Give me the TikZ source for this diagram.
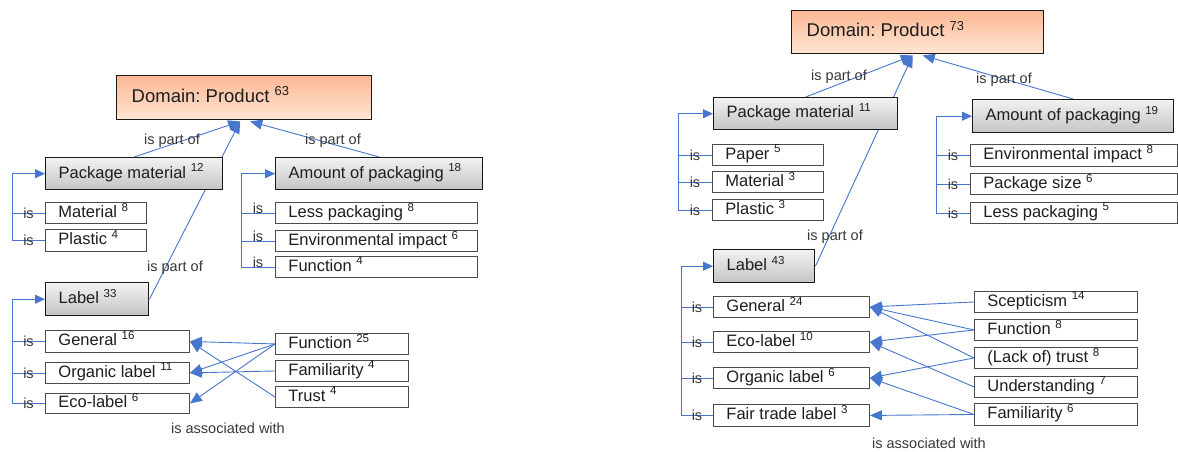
\documentclass[tikz,border=0pt]{standalone}
\usepackage{fontspec}
\setmainfont{Liberation Sans}
\usetikzlibrary{arrows.meta}

\definecolor{lnblue}{RGB}{70,118,205}
\definecolor{txt}{RGB}{30,30,30}
\definecolor{lbltxt}{RGB}{55,55,55}
\definecolor{domtop}{RGB}{252,184,148}
\definecolor{dombot}{RGB}{255,230,212}
\definecolor{grytop}{RGB}{242,242,242}
\definecolor{grybot}{RGB}{196,196,196}

\newcommand\boxfont{\fontsize{16.5}{19}\selectfont}
\newcommand\domfont{\fontsize{18.5}{21}\selectfont}
\newcommand\relfont{\fontsize{14.5}{17}\selectfont}

\pgfdeclarelayer{wires}
\pgfsetlayers{wires,main}

\tikzset{
  anybox/.style={rectangle, anchor=north west, inner ysep=0pt,
    text=txt, font=\boxfont},
  leafbox/.style={anybox, draw=black!70, line width=0.9pt, fill=white},
  groupbox/.style={anybox, draw=black!90, line width=1.4pt,
    top color=grytop, bottom color=grybot},
  domainbox/.style={anybox, draw=black!90, line width=1.4pt,
    top color=domtop, bottom color=dombot, font=\domfont},
  link/.style={draw=lnblue, line width=0.9pt},
  linkarrow/.style={link, -{Triangle[length=10pt,width=9pt]}},
  bigarrow/.style={link, -{Triangle[length=12pt,width=10pt]}},
  rel/.style={text=lbltxt, font=\relfont, inner sep=0pt},
  isrel/.style={rel, pos=0.5},
  israised/.style={rel, pos=0.5, yshift=5pt},
}

% box by its corners: [padding]{name}{style}{x1}{y1}{x2}{y2}{text}
\newcommand\bx[8][13]{%
  \pgfmathsetmacro\bxw{#6-#4}%
  \pgfmathsetmacro\bxh{#7-#5}%
  \pgfmathsetmacro\bxt{#6-#4-2*#1}%
  \node[#3, inner xsep=#1pt, minimum width=\bxw pt, minimum height=\bxh pt]
    (#2) at (#4,#5) {\makebox[\bxt pt][l]{\strut #8}};}

\begin{document}
\frenchspacing
\begin{tikzpicture}[x=1pt,y=-1pt]
\useasboundingbox (0,0) rectangle (1178,451);

% ---------- left map ----------
\bx[15]{dom1}{domainbox}{116}{75}{371}{119}{Domain: Product \textsuperscript{63}}
\bx{pm1}{groupbox}{45}{157}{222}{189}{Package material \textsuperscript{12}}
\bx{am1}{groupbox}{275}{157}{482}{189}{Amount of packaging \textsuperscript{18}}
\bx{mat1}{leafbox}{45}{202}{146}{223}{Material \textsuperscript{8}}
\bx{pla1}{leafbox}{45}{229}{146}{251}{Plastic \textsuperscript{4}}
\bx{lp1}{leafbox}{275}{202}{477}{223}{Less packaging \textsuperscript{8}}
\bx{ei1}{leafbox}{275}{230}{477}{251}{Environmental impact \textsuperscript{6}}
\bx{fu1}{leafbox}{275}{256}{477}{277}{Function \textsuperscript{4}}
\bx{lab1}{groupbox}{45}{282}{148}{315}{Label \textsuperscript{33}}
\bx{gen1}{leafbox}{45}{330}{189}{352}{General \textsuperscript{16}}
\bx{org1}{leafbox}{45}{362}{189}{383}{Organic label \textsuperscript{11}}
\bx{eco1}{leafbox}{45}{393}{189}{413}{Eco-label \textsuperscript{6}}
\bx{afu1}{leafbox}{275}{333}{408}{354}{Function \textsuperscript{25}}
\bx{afa1}{leafbox}{275}{360}{408}{381}{Familiarity \textsuperscript{4}}
\bx{atr1}{leafbox}{275}{386}{408}{407}{Trust \textsuperscript{4}}

\coordinate (dom1tipA) at ([xshift=-4pt,yshift=-1pt]dom1.south);
\coordinate (dom1tipB) at ([xshift=6pt,yshift=-1pt]dom1.south);

\node[rel] (ipoA1) at (172,141) {is part of};
\node[rel] (ipoB1) at (333,141) {is part of};
\node[rel] (ipoC1) at (175,268) {is part of};
\node[rel] (iaw1) at (228,428) {is associated with};

% ---------- right map ----------
\bx[15]{dom2}{domainbox}{791}{10}{1043}{53}{Domain: Product \textsuperscript{73}}
\bx{pm2}{groupbox}{713}{97}{897}{129}{Package material \textsuperscript{11}}
\bx{am2}{groupbox}{972}{99}{1173}{132}{Amount of packaging \textsuperscript{19}}
\bx{pap2}{leafbox}{712}{144}{823}{165}{Paper \textsuperscript{5}}
\bx{mat2}{leafbox}{712}{171}{823}{192}{Material \textsuperscript{3}}
\bx{pla2}{leafbox}{712}{199}{823}{220}{Plastic \textsuperscript{3}}
\bx{ei2}{leafbox}{970}{144}{1177}{166}{Environmental impact \textsuperscript{8}}
\bx{ps2}{leafbox}{970}{173}{1177}{194}{Package size \textsuperscript{6}}
\bx{lp2}{leafbox}{970}{202}{1177}{223}{Less packaging \textsuperscript{5}}
\bx{lab2}{groupbox}{713}{249}{814}{282}{Label \textsuperscript{43}}
\bx{gen2}{leafbox}{713}{296}{869}{317}{General \textsuperscript{24}}
\bx{eco2}{leafbox}{713}{331}{869}{352}{Eco-label \textsuperscript{10}}
\bx{org2}{leafbox}{713}{367}{869}{388}{Organic label \textsuperscript{6}}
\bx{fair2}{leafbox}{713}{404}{869}{426}{Fair trade label \textsuperscript{3}}
\bx{sce2}{leafbox}{974}{291}{1137}{312}{Scepticism \textsuperscript{14}}
\bx{fun2}{leafbox}{974}{319}{1137}{340}{Function \textsuperscript{8}}
\bx{lac2}{leafbox}{974}{347}{1137}{368}{(Lack of) trust \textsuperscript{8}}
\bx{und2}{leafbox}{974}{376}{1137}{397}{Understanding \textsuperscript{7}}
\bx{fam2}{leafbox}{974}{403}{1137}{425}{Familiarity \textsuperscript{6}}

\coordinate (dom2tipA) at ([xshift=-5pt,yshift=-1pt]dom2.south);
\coordinate (dom2tipB) at ([xshift=5pt,yshift=-1pt]dom2.south);

\node[rel] (ipoA2) at (839,77) {is part of};
\node[rel] (ipoB2) at (1004,80) {is part of};
\node[rel] (ipoC2) at (835,237) {is part of};
\node[rel] (iaw2) at (929,443) {is associated with};

\begin{pgfonlayer}{wires}
  % left map: part-of links
  \draw[bigarrow] (pm1.north) -- (dom1tipA);
  \draw[bigarrow] (lab1.east) -- (dom1tipA);
  \draw[bigarrow] (am1.north) -- (dom1tipB);
  % left map: is-links
  \draw[link] (mat1.west) -- node[isrel]{is} ++(-33,0);
  \draw[linkarrow] (pla1.west) -- node[isrel]{is} ++(-33,0) |- (pm1.west);
  \draw[link] (lp1.west) -- node[israised]{is} ++(-34,0);
  \draw[link] (ei1.west) -- node[israised]{is} ++(-34,0);
  \draw[linkarrow] (fu1.west) -- node[israised]{is} ++(-34,0) |- (am1.west);
  \draw[link] (gen1.west) -- node[isrel]{is} ++(-33,0);
  \draw[link] (org1.west) -- node[isrel]{is} ++(-33,0);
  \draw[linkarrow] (eco1.west) -- node[isrel]{is} ++(-33,0) |- (lab1.west);
  % left map: associations
  \draw[bigarrow] (afu1.west) -- (gen1.east);
  \draw[bigarrow] (atr1.west) -- (gen1.east);
  \draw[bigarrow] (afu1.west) -- (org1.east);
  \draw[bigarrow] (afa1.west) -- (org1.east);
  \draw[bigarrow] (afu1.west) -- (eco1.east);

  % right map: part-of links
  \draw[bigarrow] (pm2.north) -- (dom2tipA);
  \draw[bigarrow] (lab2.east) -- (dom2tipA);
  \draw[bigarrow] (am2.north) -- (dom2tipB);
  % right map: is-links
  \draw[link] (pap2.west) -- node[isrel]{is} ++(-34,0);
  \draw[link] (mat2.west) -- node[isrel]{is} ++(-34,0);
  \draw[linkarrow] (pla2.west) -- node[isrel]{is} ++(-34,0) |- (pm2.west);
  \draw[link] (ei2.west) -- node[isrel]{is} ++(-34,0);
  \draw[link] (ps2.west) -- node[isrel]{is} ++(-34,0);
  \draw[linkarrow] (lp2.west) -- node[isrel]{is} ++(-34,0) |- (am2.west);
  \draw[link] (gen2.west) -- node[isrel]{is} ++(-32,0);
  \draw[link] (eco2.west) -- node[isrel]{is} ++(-32,0);
  \draw[link] (org2.west) -- node[isrel]{is} ++(-32,0);
  \draw[linkarrow] (fair2.west) -- node[isrel]{is} ++(-32,0) |- (lab2.west);
  % right map: associations
  \draw[bigarrow] (sce2.west) -- (gen2.east);
  \draw[bigarrow] (fun2.west) -- (gen2.east);
  \draw[bigarrow] (lac2.west) -- (gen2.east);
  \draw[bigarrow] (fun2.west) -- (eco2.east);
  \draw[bigarrow] (und2.west) -- (eco2.east);
  \draw[bigarrow] (lac2.west) -- (org2.east);
  \draw[bigarrow] (fam2.west) -- (org2.east);
  \draw[bigarrow] (fam2.west) -- (fair2.east);
\end{pgfonlayer}
\end{tikzpicture}
\end{document}
